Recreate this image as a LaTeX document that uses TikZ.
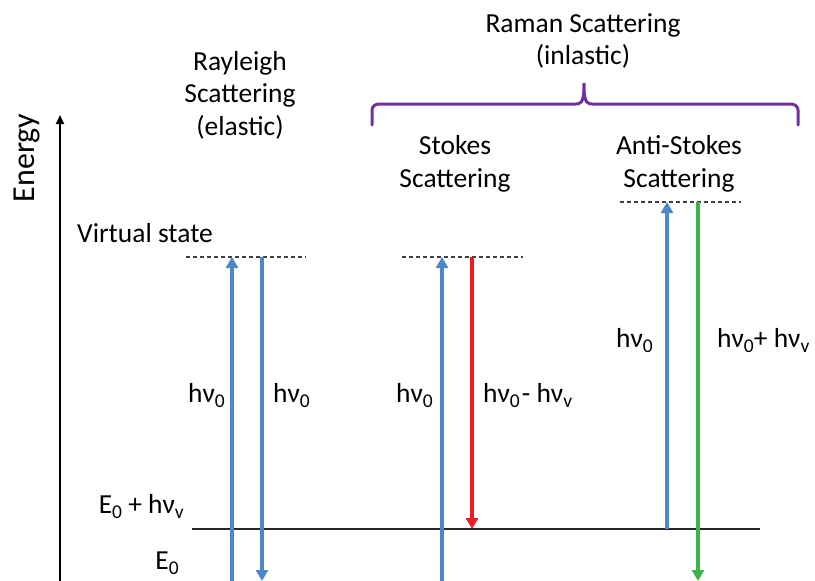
\documentclass[tikz,border=0pt]{standalone}
\usepackage{fontspec}
\setmainfont{Carlito}
\usetikzlibrary{arrows.meta}

\definecolor{photonblue}{RGB}{74,136,200}
\definecolor{stokesred}{RGB}{237,28,36}
\definecolor{antigreen}{RGB}{60,180,74}
\definecolor{bracepurple}{RGB}{112,48,160}

% subscript in text mode
\newcommand{\lowsub}[1]{\raisebox{-0.38ex}{\fontsize{19.5}{19.5}\selectfont #1}}
\newcommand{\hnu}[1]{hν\lowsub{#1}}

\tikzset{
  label text/.style={font=\fontsize{27.5}{32.5}\selectfont, align=center, inner sep=0pt},
  photon/.style={line width=3.6pt, -{Triangle[width=12pt,length=11pt]}},
  virtual/.style={line width=1.1pt, dash pattern=on 4pt off 3pt, black!75},
  level/.style={line width=1.3pt, black!85},
}

\begin{document}
\begin{tikzpicture}[x=1pt,y=-1pt]
\useasboundingbox (0,0) rectangle (815,581);

% energy axis
\coordinate (axisbot) at (60,581);
\coordinate (axistop) at (60,115);
\draw[line width=2pt, -{Triangle[width=8pt,length=9pt]}] (axisbot) -- (axistop);
\node[label text, font=\fontsize{32}{36}\selectfont, rotate=90] (energy) at (27,158) {Energy};

% headings
\node[label text] (rayleigh) at (240,95) {Rayleigh\\Scattering\\(elastic)};
\node[label text] (raman) at (583,41) {Raman Scattering\\(inlastic)};
\node[label text] (stokes) at (455,164) {Stokes\\Scattering};
\node[label text] (antistokes) at (679,164) {Anti-Stokes\\Scattering};

% brace over the Raman columns
\coordinate (brL) at (372,125);
\coordinate (brR) at (798,125);
\coordinate (brTip) at (584,83);
\draw[bracepurple, line width=3pt, line cap=round]
  (brL) -- (372,110) to[out=90,in=180] (379,104) -- (576,104)
  .. controls (583,104) and (584,98) .. (brTip)
  .. controls (584,98) and (585,104) .. (592,104)
  -- (791,104) to[out=0,in=90] (798,110) -- (brR);

% energy levels
\node[label text, anchor=west] (virt) at (77,233) {Virtual state};
\coordinate (vR1) at (186,257);
\coordinate (vR2) at (306,257);
\coordinate (vS1) at (402,257);
\coordinate (vS2) at (523,257);
\coordinate (vA1) at (620,202);
\coordinate (vA2) at (741,202);
\draw[virtual] (vR1) -- (vR2);
\draw[virtual] (vS1) -- (vS2);
\draw[virtual] (vA1) -- (vA2);

\coordinate (lvL) at (192,529);
\coordinate (lvR) at (760,529);
\draw[level] (lvL) -- (lvR);
\node[label text, anchor=east] (e0hv) at (184,507) {E\lowsub{0} + \hnu{v}};
\node[label text, anchor=east] (e0) at (179,563) {E\lowsub{0}};

% Rayleigh transitions
\coordinate (r1b) at (232,585);
\coordinate (r1t) at (232,257);
\coordinate (r2t) at (262,257);
\coordinate (r2b) at (262,581);
\draw[photon, photonblue] (r1b) -- (r1t);
\draw[photon, photonblue] (r2t) -- (r2b);
\node[label text, anchor=east] (lr1) at (225,396) {\hnu{0}};
\node[label text, anchor=west] (lr2) at (273,396) {\hnu{0}};

% Stokes transitions
\coordinate (s1b) at (442,585);
\coordinate (s1t) at (442,257);
\coordinate (s2t) at (472,257);
\coordinate (s2b) at (472,529);
\draw[photon, photonblue] (s1b) -- (s1t);
\draw[photon, stokesred] (s2t) -- (s2b);
\node[label text, anchor=east] (ls1) at (433,396) {\hnu{0}};
\node[label text, anchor=west] (ls2) at (483,396) {\hnu{0}\kern2pt- \hnu{v}};

% anti-Stokes transitions
\coordinate (a1b) at (667,529);
\coordinate (a1t) at (667,202);
\coordinate (a2t) at (698,202);
\coordinate (a2b) at (698,581);
\draw[photon, photonblue] (a1b) -- (a1t);
\draw[photon, antigreen] (a2t) -- (a2b);
\node[label text, anchor=east] (la1) at (653,341) {\hnu{0}};
\node[label text, anchor=west] (la2) at (717,341) {\hnu{0}+ \hnu{v}};
\end{tikzpicture}
\end{document}
